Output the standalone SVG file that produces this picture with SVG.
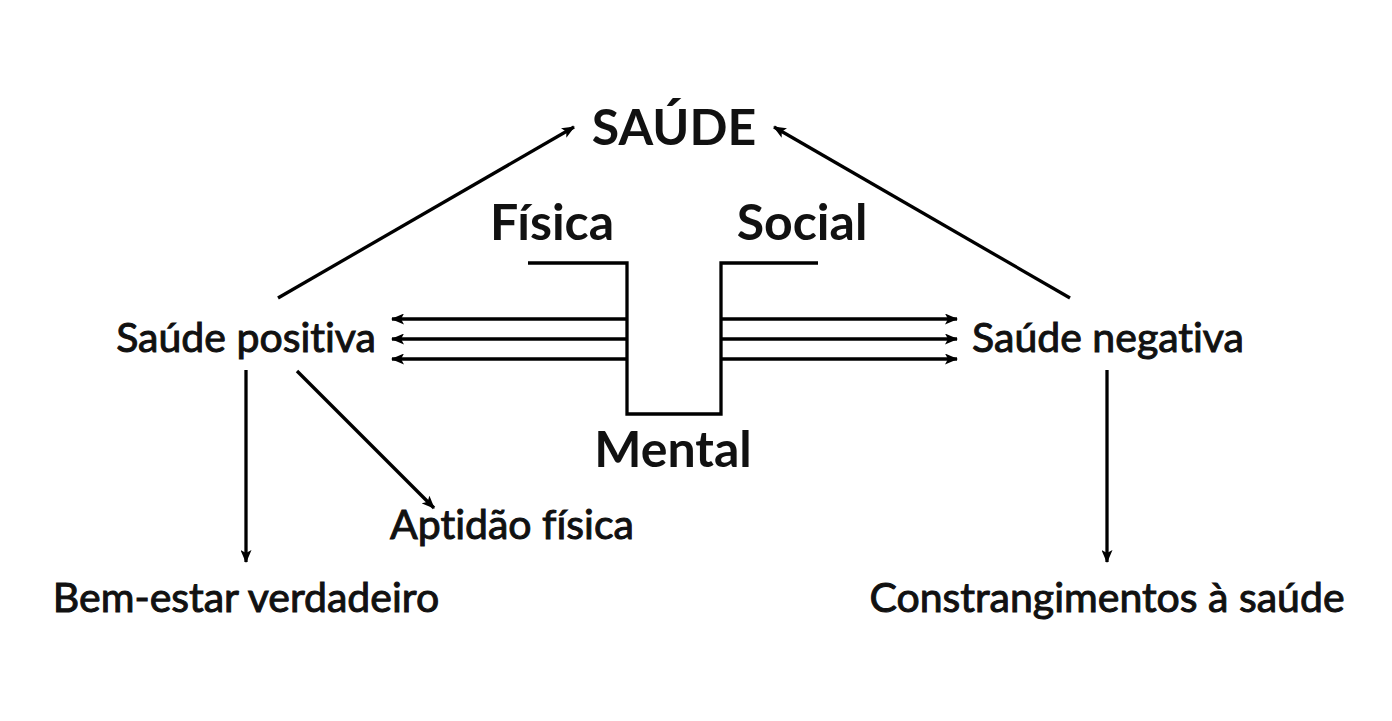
<svg xmlns="http://www.w3.org/2000/svg" width="1392" height="721" viewBox="0 0 1392 721">
<style>
text{font-family:Lato,"Liberation Sans",sans-serif;fill:#111;font-variant-ligatures:none;text-anchor:middle}
.big{font-weight:700;font-size:50px}
.lbl{font-weight:400;font-size:41px;stroke:#111;stroke-width:1;paint-order:stroke}
.ln{stroke:#000;stroke-width:3.3;fill:none}
.ar{stroke:#000;stroke-width:3.3;fill:none;marker-end:url(#ah)}
</style>
<defs>
<marker id="ah" markerWidth="13" markerHeight="11" refX="12" refY="5.5" orient="auto" markerUnits="userSpaceOnUse">
<path d="M0,0 L13,5.5 L0,11 L3,5.5 Z" fill="#000"/>
</marker>
</defs>
<rect width="1392" height="721" fill="#fff"/>
<g id="connectors">
<path class="ln" d="M528,263 H627 V414 H721 V263 H818"/>
<line class="ar" x1="627" y1="319" x2="392" y2="319"/>
<line class="ar" x1="627" y1="339" x2="392" y2="339"/>
<line class="ar" x1="627" y1="359" x2="392" y2="359"/>
<line class="ar" x1="721" y1="319" x2="957" y2="319"/>
<line class="ar" x1="721" y1="339" x2="957" y2="339"/>
<line class="ar" x1="721" y1="359" x2="957" y2="359"/>
<line class="ar" x1="278" y1="298" x2="574" y2="127"/>
<line class="ar" x1="1070" y1="298" x2="774" y2="127"/>
<line class="ar" x1="246" y1="370" x2="246" y2="562"/>
<line class="ar" x1="297" y1="371" x2="434" y2="508"/>
<line class="ar" x1="1107" y1="370" x2="1107" y2="562"/>
</g>
<g id="saude"><text class="big" x="674" y="145">SAÚDE</text></g>
<g id="fisica"><text class="big" x="552" y="240">Física</text></g>
<g id="social"><text class="big" x="802" y="240">Social</text></g>
<g id="mental"><text class="big" x="673" y="467">Mental</text></g>
<g id="saude-positiva"><text class="lbl" x="246" y="352">Saúde positiva</text></g>
<g id="saude-negativa"><text class="lbl" x="1108" y="352">Saúde negativa</text></g>
<g id="aptidao"><text class="lbl" x="512" y="539">Aptidão física</text></g>
<g id="bem-estar"><text class="lbl" x="246" y="612">Bem-estar verdadeiro</text></g>
<g id="constrangimentos"><text class="lbl" x="1107" y="612">Constrangimentos à saúde</text></g>
</svg>
